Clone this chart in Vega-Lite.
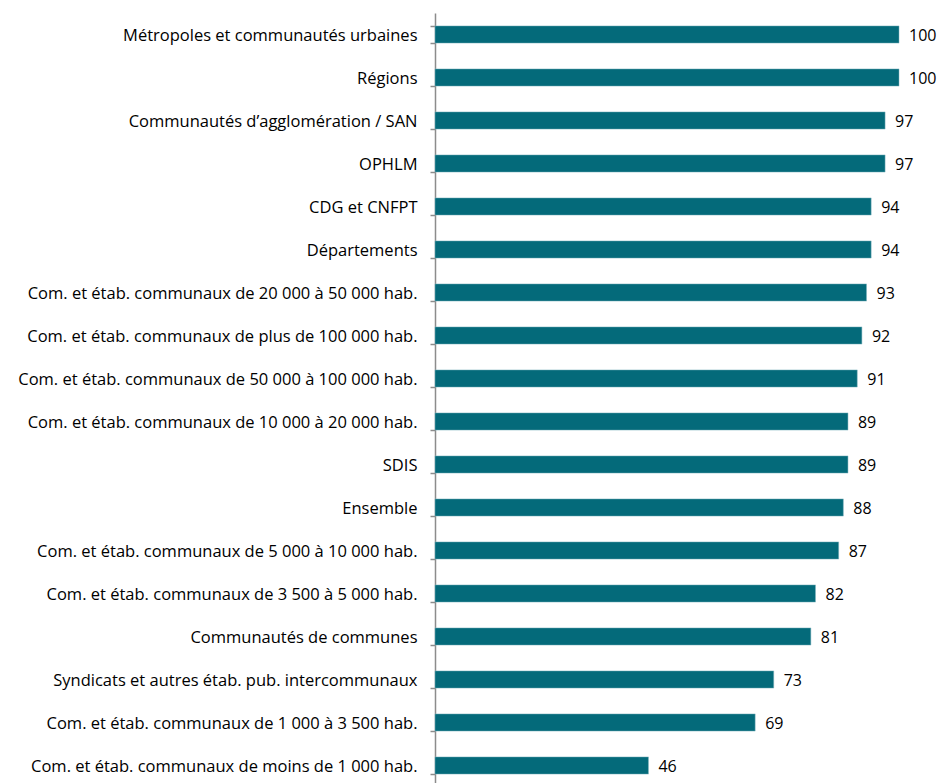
{
  "$schema": "https://vega.github.io/schema/vega-lite/v6.json",
  "autosize": "none",
  "padding": {"left": 435, "top": 13, "right": 41, "bottom": 0},
  "width": 464,
  "height": 774,
  "background": "white",
  "config": {"view": {"stroke": null}, "font": "Open Sans"},
  "data": {"values": [
    {"cat": "Métropoles et communautés urbaines", "v": 100},
    {"cat": "Régions", "v": 100},
    {"cat": "Communautés d’agglomération / SAN", "v": 97},
    {"cat": "OPHLM", "v": 97},
    {"cat": "CDG et CNFPT", "v": 94},
    {"cat": "Départements", "v": 94},
    {"cat": "Com. et étab. communaux de 20 000 à 50 000 hab.", "v": 93},
    {"cat": "Com. et étab. communaux de plus de 100 000 hab.", "v": 92},
    {"cat": "Com. et étab. communaux de 50 000 à 100 000 hab.", "v": 91},
    {"cat": "Com. et étab. communaux de 10 000 à 20 000 hab.", "v": 89},
    {"cat": "SDIS", "v": 89},
    {"cat": "Ensemble", "v": 88},
    {"cat": "Com. et étab. communaux de 5 000 à 10 000 hab.", "v": 87},
    {"cat": "Com. et étab. communaux de 3 500 à 5 000 hab.", "v": 82},
    {"cat": "Communautés de communes", "v": 81},
    {"cat": "Syndicats et autres étab. pub. intercommunaux", "v": 73},
    {"cat": "Com. et étab. communaux de 1 000 à 3 500 hab.", "v": 69},
    {"cat": "Com. et étab. communaux de moins de 1 000 hab.", "v": 46}
  ]},
  "encoding": {
    "y": {"field": "cat", "type": "nominal", "sort": null,
      "scale": {"paddingInner": 0.6, "paddingOuter": 0.3},
      "axis": {"title": null, "tickBand": "extent", "tickSize": 5, "tickColor": "#8c8c8c", "domainColor": "#8c8c8c", "domainWidth": 1.5, "tickWidth": 1.5, "labelFontSize": 16.5, "labelColor": "#000000", "labelPadding": 13, "labelLimit": 600, "labelOffset": 1}},
    "x": {"field": "v", "type": "quantitative", "scale": {"domain": [0, 100]}, "axis": null}
  },
  "layer": [
    {"mark": {"type": "bar", "color": "#046a7a", "stroke": "#7fb3bc", "strokeWidth": 0.5}},
    {"mark": {"type": "text", "align": "left", "baseline": "middle", "dx": 10, "dy": 1, "fontSize": 16, "color": "#000000"}, "encoding": {"text": {"field": "v", "type": "quantitative"}}}
  ]
}
